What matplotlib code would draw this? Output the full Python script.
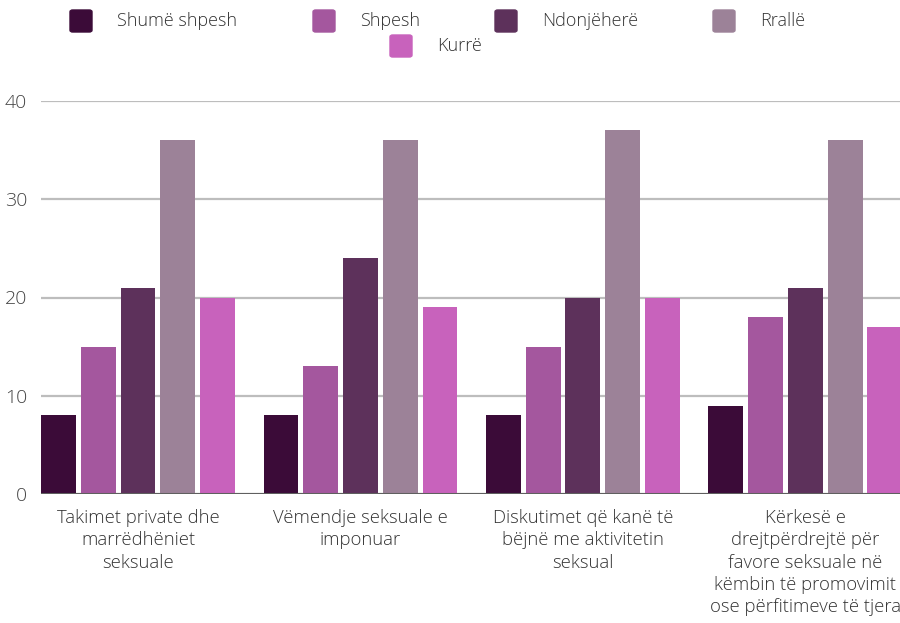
import numpy as np
import matplotlib.pyplot as plt
from matplotlib.patches import FancyBboxPatch

plt.rcParams['font.family'] = ['Open Sans', 'DejaVu Sans']

categories = [
    'Takimet private dhe\nmarrëdhëniet\nseksuale',
    'Vëmendje seksuale e\nimponuar',
    'Diskutimet që kanë të\nbëjnë me aktivitetin\nseksual',
    'Kërkesë e\ndrejtpërdrejtë për\nfavore seksuale në\nkëmbin të promovimit\nose përfitimeve të tjera',
]
series_names = ['Shumë shpesh', 'Shpesh', 'Ndonjëherë', 'Rrallë', 'Kurrë']
shume_shpesh = [8, 8, 8, 9]
shpesh = [15, 13, 15, 18]
ndonjehere = [21, 24, 20, 21]
ralle = [36, 36, 37, 36]
kurre = [20, 19, 20, 17]
colors = ['#3b0b38', '#a4579e', '#5d315b', '#9c8298', '#c862bc']

values = [shume_shpesh, shpesh, ndonjehere, ralle, kurre]

fig = plt.figure(figsize=(9, 6.23), dpi=100)
ax = fig.add_axes([41 / 900, 1 - 494 / 623, 859 / 900, (494 - 101) / 623])

x = np.arange(len(categories))
pitch = 0.1787
width = 0.157
for i, (vals, col) in enumerate(zip(values, colors)):
    ax.bar(x + (i - 2) * pitch, vals, width=width, color=col, zorder=3)

ax.set_xlim(-0.436, 3.425)
ax.set_ylim(0, 40)
ax.set_yticks([0, 10, 20, 30, 40])
ax.grid(axis='y', color='#bdbdbd', linewidth=1.6, zorder=0)
ax.axhline(0, color='#5f5f5f', linewidth=2.2, zorder=4)
for s in ax.spines.values():
    s.set_visible(False)
ax.tick_params(axis='y', length=0, pad=10, labelsize=14, labelcolor='#444444')
ax.tick_params(axis='x', length=0, pad=11, labelsize=13.3, labelcolor='#333333')
ax.set_xticks(x)
ax.set_xticklabels(categories, linespacing=1.3, fontweight='light')
for lbl in ax.get_yticklabels():
    lbl.set_fontweight('light')

# legend drawn by hand: two centred rows
legend_pos = [(70, 21), (313, 21), (495, 21), (713, 21), (390, 46)]
for name, col, (px, py) in zip(series_names, colors, legend_pos):
    box = FancyBboxPatch((px / 900, 1 - (py + 11) / 623), 22 / 900, 22 / 623,
                         boxstyle='round,pad=0,rounding_size=0.003',
                         transform=fig.transFigure, color=col, clip_on=False)
    fig.patches.append(box)
    fig.text((px + 47) / 900, 1 - py / 623, name, fontsize=13,
             fontweight='light', color='#333333', va='center', ha='left')

fig.savefig('out.png', dpi=100)
